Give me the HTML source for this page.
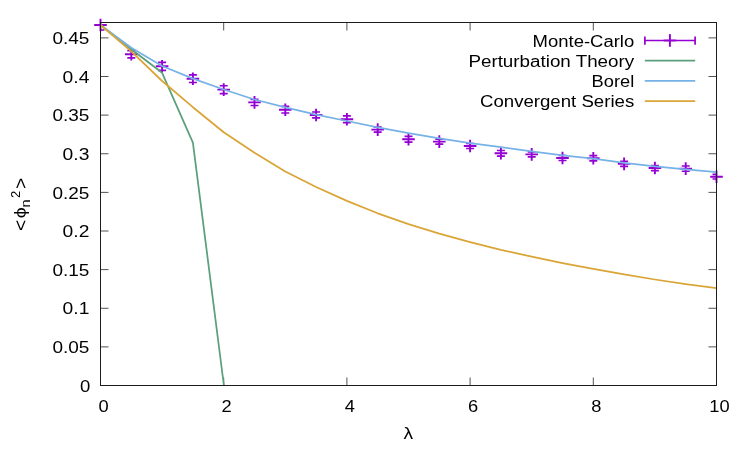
<!DOCTYPE html>
<html><head><meta charset="utf-8"><title>plot</title>
<style>html,body{margin:0;padding:0;background:#fff;}svg{display:block;will-change:transform;}text{font-family:"Liberation Sans",sans-serif;fill:#000;}</style>
</head><body>
<svg width="747" height="449" viewBox="0 0 747 449">
<rect x="0" y="0" width="747" height="449" fill="#ffffff"/>
<g stroke="#000" stroke-width="1" fill="none" stroke-linecap="butt" opacity="0.68">
<path d="M100.5,385.50h8M716.5,385.50h-8"/>
<path d="M100.5,346.88h8M716.5,346.88h-8"/>
<path d="M100.5,308.25h8M716.5,308.25h-8"/>
<path d="M100.5,269.62h8M716.5,269.62h-8"/>
<path d="M100.5,231.00h8M716.5,231.00h-8"/>
<path d="M100.5,192.38h8M716.5,192.38h-8"/>
<path d="M100.5,153.75h8M716.5,153.75h-8"/>
<path d="M100.5,115.12h8M716.5,115.12h-8"/>
<path d="M100.5,76.50h8M716.5,76.50h-8"/>
<path d="M100.5,37.88h8M716.5,37.88h-8"/>
<path d="M100.50,385.5v-8M100.50,22.5v8"/>
<path d="M223.70,385.5v-8M223.70,22.5v8"/>
<path d="M346.90,385.5v-8M346.90,22.5v8"/>
<path d="M470.10,385.5v-8M470.10,22.5v8"/>
<path d="M593.30,385.5v-8M593.30,22.5v8"/>
<path d="M716.50,385.5v-8M716.50,22.5v8"/>
</g>
<text x="79.9" y="391.70" font-size="16" text-anchor="start" textLength="10.3" lengthAdjust="spacingAndGlyphs">0</text>
<text x="52.470000000000006" y="353.07" font-size="16" text-anchor="start" textLength="36.93" lengthAdjust="spacingAndGlyphs">0.05</text>
<text x="62.64000000000001" y="314.45" font-size="16" text-anchor="start" textLength="26.76" lengthAdjust="spacingAndGlyphs">0.1</text>
<text x="52.470000000000006" y="275.82" font-size="16" text-anchor="start" textLength="36.93" lengthAdjust="spacingAndGlyphs">0.15</text>
<text x="62.64000000000001" y="237.20" font-size="16" text-anchor="start" textLength="26.76" lengthAdjust="spacingAndGlyphs">0.2</text>
<text x="52.470000000000006" y="198.57" font-size="16" text-anchor="start" textLength="36.93" lengthAdjust="spacingAndGlyphs">0.25</text>
<text x="62.64000000000001" y="159.95" font-size="16" text-anchor="start" textLength="26.76" lengthAdjust="spacingAndGlyphs">0.3</text>
<text x="52.470000000000006" y="121.33" font-size="16" text-anchor="start" textLength="36.93" lengthAdjust="spacingAndGlyphs">0.35</text>
<text x="62.64000000000001" y="82.70" font-size="16" text-anchor="start" textLength="26.76" lengthAdjust="spacingAndGlyphs">0.4</text>
<text x="52.470000000000006" y="44.08" font-size="16" text-anchor="start" textLength="36.93" lengthAdjust="spacingAndGlyphs">0.45</text>
<text x="98.42" y="412.4" font-size="16" text-anchor="start" textLength="10.17" lengthAdjust="spacingAndGlyphs">0</text>
<text x="221.61" y="412.4" font-size="16" text-anchor="start" textLength="10.17" lengthAdjust="spacingAndGlyphs">2</text>
<text x="344.81" y="412.4" font-size="16" text-anchor="start" textLength="10.17" lengthAdjust="spacingAndGlyphs">4</text>
<text x="468.02" y="412.4" font-size="16" text-anchor="start" textLength="10.17" lengthAdjust="spacingAndGlyphs">6</text>
<text x="591.21" y="412.4" font-size="16" text-anchor="start" textLength="10.17" lengthAdjust="spacingAndGlyphs">8</text>
<text x="709.33" y="412.4" font-size="16" text-anchor="start" textLength="20.34" lengthAdjust="spacingAndGlyphs">10</text>
<text x="403.6" y="438.9" font-size="16" text-anchor="start" textLength="9.6" lengthAdjust="spacingAndGlyphs">&#955;</text>
<g transform="translate(25.3,230.9) rotate(-90)">
<text x="0" y="1.2" font-size="19">&lt;</text>
<text x="12.7" y="1" font-size="16" textLength="11" lengthAdjust="spacingAndGlyphs">&#981;</text>
<text x="23.5" y="4.8" font-size="12.8" textLength="8.1" lengthAdjust="spacingAndGlyphs">n</text>
<text x="32.9" y="-5.8" font-size="12.8" textLength="7.2" lengthAdjust="spacingAndGlyphs">2</text>
<text x="42" y="1.2" font-size="19">&gt;</text>
</g>
<text x="532.6" y="46.6" font-size="16" text-anchor="start" textLength="101.60" lengthAdjust="spacingAndGlyphs">Monte-Carlo</text>
<text x="468.4" y="66.6" font-size="16" text-anchor="start" textLength="165.80" lengthAdjust="spacingAndGlyphs">Perturbation Theory</text>
<text x="591.6" y="86.6" font-size="16" text-anchor="start" textLength="42.60" lengthAdjust="spacingAndGlyphs">Borel</text>
<text x="480.0" y="106.6" font-size="16" text-anchor="start" textLength="154.20" lengthAdjust="spacingAndGlyphs">Convergent Series</text>
<clipPath id="c"><rect x="100.5" y="22.5" width="616" height="363"/></clipPath>
<g stroke="#9400D3" stroke-width="1.8" fill="none" stroke-linecap="butt">
<path stroke-width="1.5" d="M644.2,40.5H695.8"/><path stroke-width="1.8" d="M663.6,40.5H676.2"/><path stroke-width="1.9" d="M669.9,34.1v12.7"/><path stroke-width="1.7" d="M644.9,36.4v8.3M695.1,36.4v8.3"/>
<path stroke-width="1.9" d="M100.50,18.70v12.6M94.20,25.00h12.6"/>
<path stroke-width="1.65" clip-path="url(#c)" d="M96.50,20.00h8M96.50,30.00h8"/>
<path stroke-width="1.9" d="M131.30,47.90v12.6M125.00,54.20h12.6"/>
<path stroke-width="1.65" clip-path="url(#c)" d="M127.30,50.60h8M127.30,57.80h8"/>
<path stroke-width="1.9" d="M162.10,60.00v12.6M155.80,66.30h12.6"/>
<path stroke-width="1.65" clip-path="url(#c)" d="M158.10,62.30h8M158.10,70.30h8"/>
<path stroke-width="1.9" d="M192.90,72.40v12.6M186.60,78.70h12.6"/>
<path stroke-width="1.65" clip-path="url(#c)" d="M188.90,74.90h8M188.90,82.50h8"/>
<path stroke-width="1.9" d="M223.70,83.35v12.6M217.40,89.65h12.6"/>
<path stroke-width="1.65" clip-path="url(#c)" d="M219.70,85.75h8M219.70,93.55h8"/>
<path stroke-width="1.9" d="M254.50,96.10v12.6M248.20,102.40h12.6"/>
<path stroke-width="1.65" clip-path="url(#c)" d="M250.50,99.30h8M250.50,105.50h8"/>
<path stroke-width="1.9" d="M285.30,103.40v12.6M279.00,109.70h12.6"/>
<path stroke-width="1.65" clip-path="url(#c)" d="M281.30,106.40h8M281.30,113.00h8"/>
<path stroke-width="1.9" d="M316.10,108.65v12.6M309.80,114.95h12.6"/>
<path stroke-width="1.65" clip-path="url(#c)" d="M312.10,112.00h8M312.10,117.90h8"/>
<path stroke-width="1.9" d="M346.90,112.95v12.6M340.60,119.25h12.6"/>
<path stroke-width="1.65" clip-path="url(#c)" d="M342.90,115.90h8M342.90,122.60h8"/>
<path stroke-width="1.9" d="M377.70,123.35v12.6M371.40,129.65h12.6"/>
<path stroke-width="1.65" clip-path="url(#c)" d="M373.70,127.15h8M373.70,132.15h8"/>
<path stroke-width="1.9" d="M408.50,132.95v12.6M402.20,139.25h12.6"/>
<path stroke-width="1.65" clip-path="url(#c)" d="M404.50,136.35h8M404.50,142.15h8"/>
<path stroke-width="1.9" d="M439.30,135.30v12.6M433.00,141.60h12.6"/>
<path stroke-width="1.65" clip-path="url(#c)" d="M435.30,139.10h8M435.30,144.10h8"/>
<path stroke-width="1.9" d="M470.10,139.65v12.6M463.80,145.95h12.6"/>
<path stroke-width="1.65" clip-path="url(#c)" d="M466.10,143.45h8M466.10,148.45h8"/>
<path stroke-width="1.9" d="M500.90,147.00v12.6M494.60,153.30h12.6"/>
<path stroke-width="1.65" clip-path="url(#c)" d="M496.90,150.50h8M496.90,156.10h8"/>
<path stroke-width="1.9" d="M531.70,148.10v12.6M525.40,154.40h12.6"/>
<path stroke-width="1.65" clip-path="url(#c)" d="M527.70,151.90h8M527.70,156.90h8"/>
<path stroke-width="1.9" d="M562.50,151.70v12.6M556.20,158.00h12.6"/>
<path stroke-width="1.65" clip-path="url(#c)" d="M558.50,155.50h8M558.50,160.50h8"/>
<path stroke-width="1.9" d="M593.30,151.90v12.6M587.00,158.20h12.6"/>
<path stroke-width="1.65" clip-path="url(#c)" d="M589.30,155.60h8M589.30,160.80h8"/>
<path stroke-width="1.9" d="M624.10,157.60v12.6M617.80,163.90h12.6"/>
<path stroke-width="1.65" clip-path="url(#c)" d="M620.10,161.40h8M620.10,166.40h8"/>
<path stroke-width="1.9" d="M654.90,161.75v12.6M648.60,168.05h12.6"/>
<path stroke-width="1.65" clip-path="url(#c)" d="M650.90,165.55h8M650.90,170.55h8"/>
<path stroke-width="1.9" d="M685.70,162.30v12.6M679.40,168.60h12.6"/>
<path stroke-width="1.65" clip-path="url(#c)" d="M681.70,166.00h8M681.70,171.20h8"/>
<path stroke-width="1.9" d="M716.50,170.40v12.6M710.20,176.70h12.6"/>
<path stroke-width="1.65" clip-path="url(#c)" d="M712.50,174.40h8M712.50,179.00h8"/>
</g>
<g fill="none" stroke-width="1.75" stroke-linejoin="round" stroke-linecap="butt">
<path stroke="#5C9F7C" d="M644.8,60.7H695.2"/>
<polyline stroke="#5C9F7C" points="100.50,25.00 131.30,49.30 162.10,72.80 192.90,142.65 223.90,385.50"/>
<path stroke="#76B2E6" d="M644.8,80.9H695.2"/>
<polyline stroke="#76B2E6" points="100.50,25.00 131.30,47.80 162.10,66.00 192.90,78.60 223.70,89.50 254.50,99.50 285.30,107.40 316.10,114.70 346.90,121.00 377.70,127.40 408.50,133.20 439.30,138.40 470.10,143.05 500.90,147.20 531.70,151.40 562.50,155.40 593.30,158.70 624.10,162.80 654.90,166.40 685.70,169.30 716.50,172.10"/>
<path stroke="#DAA537" d="M644.8,101.0H695.2"/>
<polyline stroke="#DAA537" points="100.50,25.00 131.30,51.30 162.10,81.00 192.90,107.20 223.70,132.20 254.50,152.80 285.30,171.50 316.10,187.00 346.90,200.90 377.70,213.30 408.50,224.10 439.30,233.70 470.10,242.10 500.90,249.80 531.70,256.70 562.50,263.10 593.30,268.90 624.10,274.40 654.90,279.50 685.70,284.10 716.50,288.20"/>
</g>
<rect x="100.5" y="22.5" width="616.0" height="363.0" fill="none" stroke="#1c1c1c" stroke-width="1"/>
</svg>
</body></html>
